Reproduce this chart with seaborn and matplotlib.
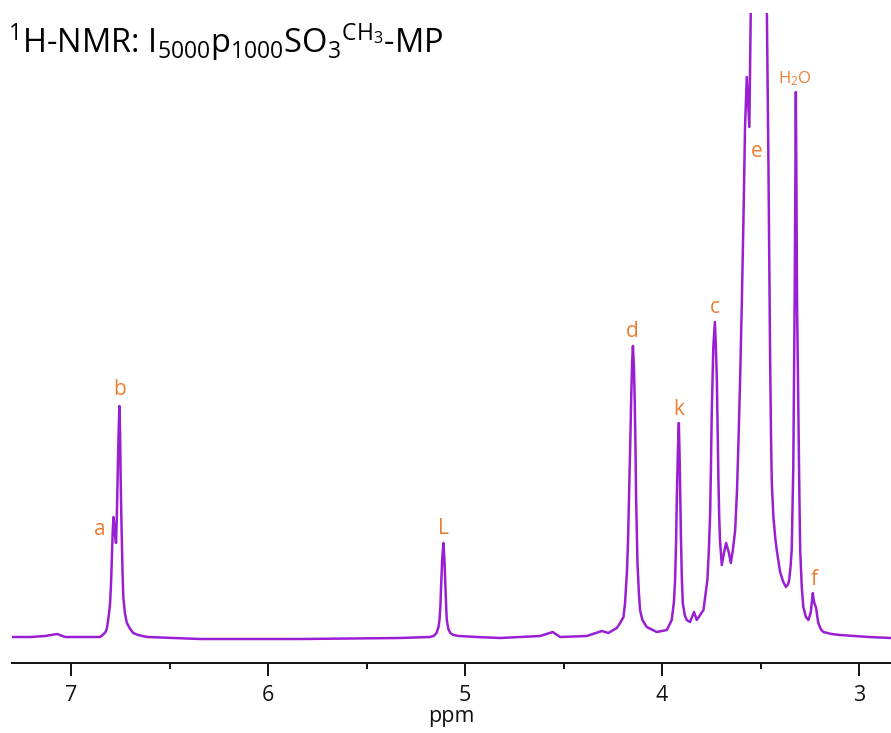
import matplotlib
matplotlib.use('Agg')
from matplotlib import pyplot as plt
import pandas as pd
import seaborn as sns

# spectrum trace (ppm, intensity in arbitrary units)
ppm = [7.299, 7.208, 7.132, 7.071, 7.030, 6.929, 6.853, 6.840, 6.825, 6.818,
       6.812, 6.806, 6.802, 6.797, 6.793, 6.789, 6.785, 6.780, 6.777, 6.772,
       6.768, 6.764, 6.760, 6.755, 6.751, 6.749, 6.746, 6.743, 6.739, 6.735,
       6.727, 6.717, 6.700, 6.685, 6.660, 6.614, 6.345, 5.838, 5.330, 5.180,
       5.160, 5.145, 5.135, 5.130, 5.125, 5.122, 5.116, 5.110, 5.105, 5.100,
       5.096, 5.093, 5.085, 5.075, 5.060, 5.030, 4.941, 4.822, 4.619, 4.555,
       4.518, 4.382, 4.306, 4.273, 4.230, 4.213, 4.196, 4.188, 4.183, 4.178,
       4.173, 4.168, 4.162, 4.157, 4.152, 4.148, 4.143, 4.139, 4.135, 4.132,
       4.128, 4.125, 4.118, 4.112, 4.100, 4.078, 4.027, 3.976, 3.951, 3.940,
       3.934, 3.929, 3.925, 3.920, 3.915, 3.910, 3.905, 3.900, 3.895, 3.885,
       3.875, 3.858, 3.838, 3.824, 3.790, 3.770, 3.762, 3.756, 3.752, 3.748,
       3.740, 3.732, 3.727, 3.722, 3.718, 3.714, 3.710, 3.706, 3.697, 3.685,
       3.675, 3.662, 3.651, 3.640, 3.629, 3.620, 3.613, 3.604, 3.595, 3.587,
       3.579, 3.570, 3.557, 3.550, 3.543, 3.510, 3.475, 3.468, 3.460, 3.452,
       3.447, 3.443, 3.435, 3.425, 3.418, 3.401, 3.385, 3.371, 3.360, 3.355,
       3.348, 3.342, 3.334, 3.327, 3.324, 3.321, 3.318, 3.315, 3.308, 3.303,
       3.299, 3.291, 3.283, 3.270, 3.257, 3.245, 3.235, 3.231, 3.227, 3.218,
       3.212, 3.207, 3.195, 3.181, 3.140, 3.097, 2.950, 2.838]
intensity = [0, 0, 1, 3, 0, 0, 0, 2, 5, 9,
             17, 26, 34, 55, 80, 104, 120, 110, 102, 94,
             120, 157, 195, 231, 200, 167, 130, 100, 65, 40,
             24, 14, 8, 4, 2, 0, -2, -2, -1, 0,
             1, 4, 10, 17, 32, 50, 78, 94, 78, 50,
             30, 17, 8, 4, 2, 1, 0, -1, 1, 5,
             0, 1, 6, 4, 9, 14, 20, 34, 50, 67,
             95, 137, 190, 237, 275, 291, 270, 237, 190, 140,
             100, 74, 45, 27, 17, 10, 5, 7, 17, 35,
             57, 95, 140, 185, 214, 170, 107, 60, 34, 22,
             17, 15, 25, 17, 27, 57, 90, 124, 170, 224,
             290, 315, 290, 257, 205, 157, 120, 97, 72, 85,
             94, 85, 74, 88, 107, 145, 190, 257, 337, 417,
             510, 560, 510, 624, 737, 1137, 737, 624, 470, 287,
             200, 154, 120, 98, 87, 65, 55, 50, 53, 57,
             70, 87, 170, 337, 450, 545, 450, 337, 217, 140,
             87, 50, 30, 20, 17, 25, 44, 38, 34, 29,
             20, 14, 8, 5, 3, 2, 0, -1]

# peak labels
labels = ['a', 'b', 'L', 'd', 'k', 'c', 'e', 'H$_2$O', 'f']
label_ppm = [6.853, 6.755, 5.110, 4.151, 3.917, 3.734, 3.519, 3.325, 3.228]
label_y = [102, 242, 103, 300, 222, 324, 480, 554, 52]

title = r'$^{1}$H-NMR: I$_{5000}$p$_{1000}$SO$_{3}$$^{CH_3}$-MP'

df = pd.DataFrame({'ppm': ppm, 'intensity': intensity})

sns.set_style('ticks')
plt.rcParams['font.family'] = ['Open Sans', 'DejaVu Sans']
plt.rcParams['mathtext.default'] = 'regular'

purple = '#9A1ED2'
orange = '#ED7D31'

fig = plt.figure(figsize=(8.91, 7.33), dpi=100)
ax = fig.add_axes([12 / 891, 1 - 663 / 733, 1 - 12 / 891, (663 - 13) / 733])
sns.lineplot(data=df, x='ppm', y='intensity', sort=False, estimator=None,
             color=purple, linewidth=1.8, ax=ax)

ax.set_xlim(7.30, 2.838)
ax.set_ylim(-26, 624)
ax.set_yticks([])
ax.set_ylabel('')
ax.set_xticks([7, 6, 5, 4, 3])
ax.set_xticks([6.5, 5.5, 4.5, 3.5], minor=True)
ax.tick_params(axis='x', which='major', direction='out', length=9, width=1.4,
               labelsize=15.5, pad=7, colors='#111111')
ax.tick_params(axis='x', which='minor', direction='out', length=4.5, width=1.4,
               colors='#111111')
for s in ['left', 'top', 'right']:
    ax.spines[s].set_visible(False)
ax.spines['bottom'].set_linewidth(1.4)
ax.spines['bottom'].set_color('#111111')
ax.set_xlabel('ppm', fontsize=15.5, labelpad=0, color='#111111')

for txt, xp, yp in zip(labels, label_ppm, label_y):
    fs = 12 if 'H' in txt else 15
    ax.text(xp, yp, txt, color=orange, fontsize=fs, ha='center', va='baseline')

fig.text(8 / 891, 1 - 53 / 733, title, fontsize=23.5, va='baseline', ha='left',
         color='black')

fig.savefig('out.png', dpi=100)
